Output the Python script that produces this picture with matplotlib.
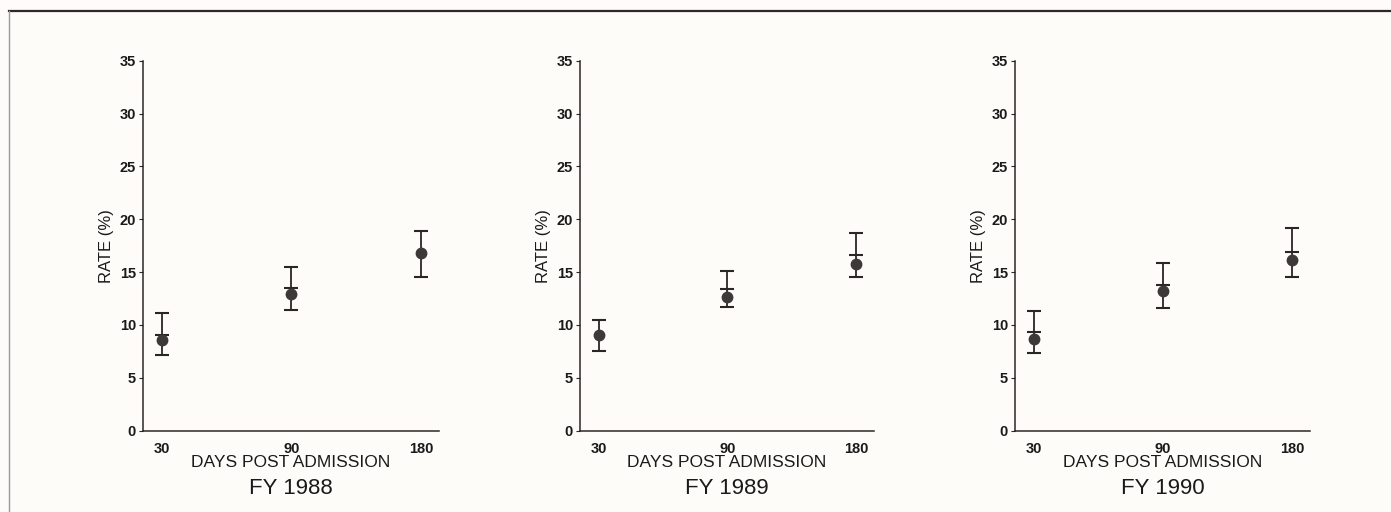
import matplotlib.pyplot as plt
from matplotlib.lines import Line2D
import numpy as np

plt.rcParams['font.family'] = ['Liberation Sans', 'DejaVu Sans']

# Data
days = ['30', '90', '180']
years = ['FY 1988', 'FY 1989', 'FY 1990']

rate_1988 = [8.6, 12.9, 16.8]
upper_1988 = [11.1, 15.5, 18.9]
lower_1988 = [7.1, 11.4, 14.5]
inner_1988 = [9.0, 13.5, np.nan]

rate_1989 = [9.0, 12.6, 15.8]
upper_1989 = [10.5, 15.1, 18.7]
lower_1989 = [7.5, 11.7, 14.5]
inner_1989 = [np.nan, 13.4, 16.6]

rate_1990 = [8.7, 13.2, 16.1]
upper_1990 = [11.3, 15.9, 19.2]
lower_1990 = [7.3, 11.6, 14.5]
inner_1990 = [9.3, 13.8, 16.9]

rates = [rate_1988, rate_1989, rate_1990]
uppers = [upper_1988, upper_1989, upper_1990]
lowers = [lower_1988, lower_1989, lower_1990]
inners = [inner_1988, inner_1989, inner_1990]

W, H = 1391, 512
fig = plt.figure(figsize=(W / 100, H / 100), dpi=100)
fig.patch.set_facecolor('#fdfcf9')

# axes boxes in pixels: left, right
lefts = [143, 580, 1015]
rights = [439, 874, 1310]
top_px, bot_px = 60.7, 430.5

ink = '#2b2626'
dot = '#3d3939'

for i in range(3):
    l, r = lefts[i], rights[i]
    ax = fig.add_axes([l / W, 1 - bot_px / H, (r - l) / W, (bot_px - top_px) / H])
    ax.set_facecolor('none')
    x = np.arange(len(days))
    y = np.array(rates[i])
    up = np.array(uppers[i])
    lo = np.array(lowers[i])
    ax.errorbar(x, y, yerr=[y - lo, up - y], fmt='none', ecolor=ink,
                elinewidth=1.3, capsize=5, capthick=1.5, zorder=2)
    ax.scatter(x, inners[i], marker='_', s=90, color=ink, linewidths=1.5, zorder=2)
    ax.plot(x, y, 'o', color=dot, markersize=7.5, zorder=3)

    ax.set_xlim(-0.145, 2.14)
    ax.set_ylim(0, 35)
    ax.set_yticks(range(0, 36, 5))
    ax.set_xticks(x)
    ax.set_xticklabels(days)
    for s in ['top', 'right']:
        ax.spines[s].set_visible(False)
    for s in ['left', 'bottom']:
        ax.spines[s].set_color(ink)
        ax.spines[s].set_linewidth(1.1)
    ax.tick_params(axis='y', length=3, width=0.8, color=ink, pad=2,
                   labelsize=10.5, labelcolor='#1a1a1a')
    ax.tick_params(axis='x', length=0, pad=8, labelsize=10.5, labelcolor='#1a1a1a')
    for lab in ax.get_xticklabels() + ax.get_yticklabels():
        lab.set_fontweight('bold')
    ax.set_ylabel('RATE (%)', fontsize=12, color='#1a1a1a', labelpad=4)

    cx = (l + r) / 2 / W
    fig.text(cx, 1 - 462.5 / H, 'DAYS POST ADMISSION', ha='center', va='center',
             fontsize=12.5, color='#1a1a1a')
    fig.text(cx, 1 - 488 / H, years[i], ha='center', va='center',
             fontsize=16, color='#1a1a1a')

# outer frame lines of the scanned page
fig.add_artist(Line2D([9 / W, 1], [1 - 11 / H, 1 - 11 / H], color='#2e2828', linewidth=1.6))
fig.add_artist(Line2D([9 / W, 9 / W], [0, 1 - 11 / H], color='#9a9a9a', linewidth=1.0))

fig.savefig('out.png', dpi=100, facecolor=fig.get_facecolor())
